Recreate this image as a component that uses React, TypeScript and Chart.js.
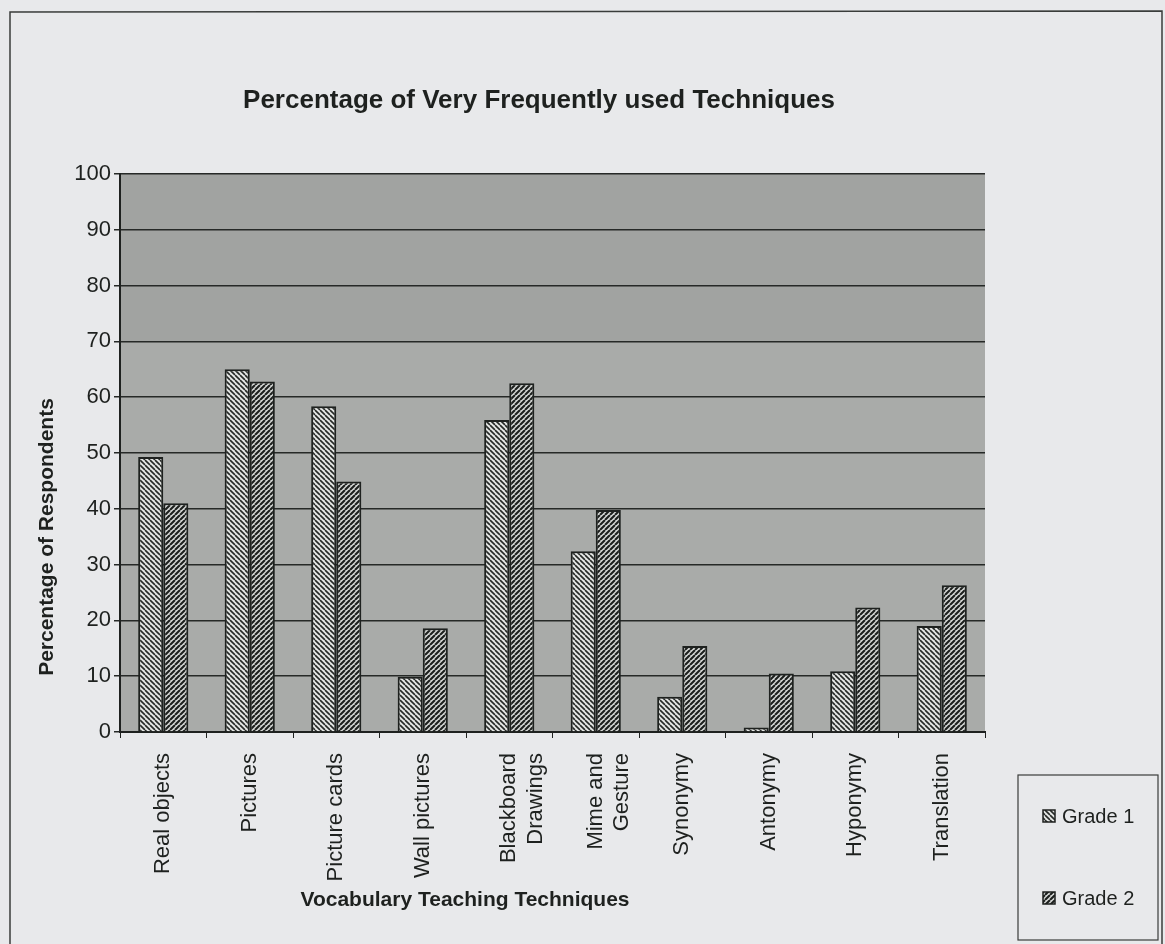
import React, { useEffect, useRef } from "react";
import { Chart, registerables } from "chart.js";

Chart.register(...registerables);

const categories: (string | string[])[] = [
  "Real objects",
  "Pictures",
  "Picture cards",
  "Wall pictures",
  ["Blackboard", "Drawings"],
  ["Mime and", "Gesture"],
  "Synonymy",
  "Antonymy",
  "Hyponymy",
  "Translation",
];
const grade1 = [49.3, 65.0, 58.4, 9.9, 55.9, 32.4, 6.3, 0.8, 10.9, 19.0];
const grade2 = [41.0, 62.8, 44.9, 18.6, 62.5, 39.8, 15.4, 10.5, 22.3, 26.3];
const seriesNames = ["Grade 1", "Grade 2"];
const chartTitle = "Percentage of Very Frequently used Techniques";
const xTitle = "Vocabulary Teaching Techniques";
const yTitle = "Percentage of Respondents";

const FONT = "'Liberation Sans', Arial, sans-serif";
const PAGE_BG = "#e8e9eb";
const INK = "#1e211f";

function makePattern(dir: number, bg: string, fg: string, lw: number) {
  const s = 5;
  const c = document.createElement("canvas");
  c.width = s;
  c.height = s;
  const ctx = c.getContext("2d")!;
  ctx.fillStyle = bg;
  ctx.fillRect(0, 0, s, s);
  ctx.strokeStyle = fg;
  ctx.lineWidth = lw;
  ctx.beginPath();
  for (let k = -1; k <= 1; k++) {
    if (dir > 0) {
      ctx.moveTo(k * s, 0);
      ctx.lineTo(k * s + s, s);
    } else {
      ctx.moveTo(k * s, s);
      ctx.lineTo(k * s + s, 0);
    }
  }
  ctx.stroke();
  return ctx.createPattern(c, "repeat")!;
}

export default function App() {
  const ref = useRef<HTMLCanvasElement>(null);

  useEffect(() => {
    const canvas = ref.current!;
    const p1 = makePattern(1, "#e4e6e4", "#262927", 1.6);
    const p2 = makePattern(-1, "#d4d6d4", "#1c1f1d", 2.1);

    const decor = {
      id: "decor",
      beforeDraw(chart: any) {
        const { ctx, chartArea, scales } = chart;
        ctx.save();
        ctx.fillStyle = PAGE_BG;
        ctx.fillRect(0, 0, chart.width, chart.height);
        ctx.strokeStyle = "#3a3d3b";
        ctx.lineWidth = 1.5;
        ctx.beginPath();
        ctx.moveTo(10, 960);
        ctx.lineTo(10, 12);
        ctx.lineTo(1162, 11);
        ctx.lineTo(1162, 960);
        ctx.stroke();
        ctx.fillStyle = "#a9aba9";
        ctx.fillRect(chartArea.left, chartArea.top, chartArea.right - chartArea.left, chartArea.bottom - chartArea.top);
        const y70 = scales.y.getPixelForValue(70);
        ctx.fillStyle = "#a1a3a1";
        ctx.fillRect(chartArea.left, chartArea.top, chartArea.right - chartArea.left, y70 - chartArea.top);
        ctx.restore();
      },
      afterDraw(chart: any) {
        const { ctx } = chart;
        ctx.save();
        ctx.fillStyle = INK;
        ctx.textAlign = "center";
        ctx.textBaseline = "middle";
        ctx.font = `bold 26px ${FONT}`;
        ctx.fillText(chartTitle, 539, 101);
        ctx.font = `bold 21px ${FONT}`;
        ctx.fillText(xTitle, 465, 900);
        ctx.save();
        ctx.translate(47, 537);
        ctx.rotate(-Math.PI / 2);
        ctx.fillText(yTitle, 0, 0);
        ctx.restore();
        ctx.fillStyle = PAGE_BG;
        ctx.fillRect(1018, 775, 140, 165);
        ctx.strokeStyle = "#3a3d3b";
        ctx.lineWidth = 1.2;
        ctx.strokeRect(1018, 775, 140, 165);
        const pats = [p1, p2];
        const ys = [816, 898];
        ctx.font = `20px ${FONT}`;
        ctx.textAlign = "left";
        for (let i = 0; i < 2; i++) {
          ctx.fillStyle = pats[i];
          ctx.fillRect(1043, ys[i] - 6, 12, 12);
          ctx.strokeStyle = INK;
          ctx.lineWidth = 1.5;
          ctx.strokeRect(1043, ys[i] - 6, 12, 12);
          ctx.fillStyle = INK;
          ctx.fillText(seriesNames[i], 1062, ys[i] + 1);
        }
        ctx.restore();
      },
    };

    const chart = new Chart(canvas, {
      type: "bar",
      data: {
        labels: categories,
        datasets: [
          {
            label: seriesNames[0],
            data: grade1,
            backgroundColor: p1,
            borderColor: INK,
            borderWidth: 2,
            borderSkipped: "bottom",
            categoryPercentage: 0.58,
            barPercentage: 1,
          },
          {
            label: seriesNames[1],
            data: grade2,
            backgroundColor: p2,
            borderColor: INK,
            borderWidth: 2,
            borderSkipped: "bottom",
            categoryPercentage: 0.58,
            barPercentage: 1,
          },
        ],
      },
      options: {
        responsive: false,
        animation: false,
        events: [],
        layout: { padding: { left: 0, top: 174, right: 180, bottom: 0 } },
        plugins: {
          legend: { display: false },
          title: { display: false },
          tooltip: { enabled: false },
        },
        scales: {
          x: {
            afterFit(scale: any) {
              scale.height = 212;
            },
            offset: true,
            grid: {
              display: true,
              drawOnChartArea: false,
              offset: true,
              color: INK,
              lineWidth: 1,
              tickLength: 6,
            },
            border: { display: true, color: INK, width: 2 },
            ticks: {
              autoSkip: false,
              minRotation: 90,
              maxRotation: 90,
              padding: 15,
              color: INK,
              font: { family: FONT, size: 22 },
            },
          },
          y: {
            min: 0,
            max: 100,
            afterFit(scale: any) {
              scale.width = 120;
            },
            grid: {
              color: "#262927",
              lineWidth: 1.5,
              tickLength: 6,
            },
            border: { display: true, color: INK, width: 2 },
            ticks: {
              stepSize: 10,
              padding: 3,
              color: INK,
              font: { family: FONT, size: 22 },
            },
          },
        },
      },
      plugins: [decor],
    });
    return () => chart.destroy();
  }, []);

  return (
    <div style={{ position: "fixed", left: 0, top: 0, width: 1165, height: 944 }}>
      <canvas ref={ref} width={1165} height={944} style={{ display: "block" }} />
    </div>
  );
}
